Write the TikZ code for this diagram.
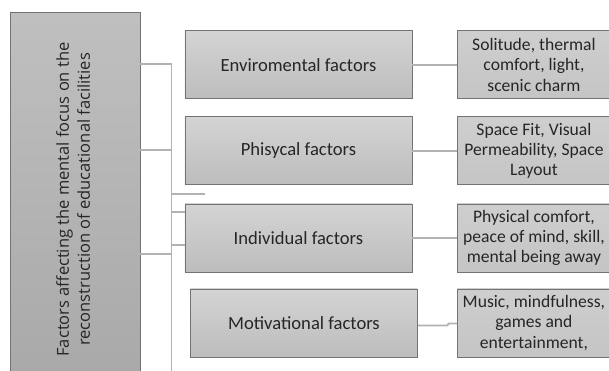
\documentclass[tikz,border=0pt]{standalone}
\usepackage{fontspec}
\setmainfont{Carlito}
\newfontfamily\leftfont{Open Sans}
\begin{document}
\begin{tikzpicture}[x=1pt,y=-1pt,
  boxbase/.style={draw=black!55, line width=0.9pt, inner sep=1pt, align=center,
    text=black!85, font=\fontsize{18.6}{20.3}\selectfont, anchor=north west},
  leftbox/.style={boxbase, top color=black!25, bottom color=black!34},
  midbox/.style={boxbase, top color=black!17, bottom color=black!26,
    minimum width=227pt, minimum height=68pt},
  rightbox/.style={boxbase, top color=black!19, bottom color=black!23,
    minimum width=153pt, minimum height=68pt, font=\fontsize{17.6}{20.3}\selectfont},
  link/.style={draw=black!30, line width=1.8pt}]
\useasboundingbox (0,0) rectangle (609,371);
\clip (0,0) rectangle (609,371);
\node[leftbox, minimum width=129.5pt, minimum height=374pt] (L) at (10,12)
  {\rotatebox{90}{\leftfont\fontsize{16.5}{21}\selectfont\begin{tabular}{@{}c@{}}Factors affecting the mental focus on the\\reconstruction of educational facilities\end{tabular}}};
\node[midbox] (m1) at (184.5,30.5) {Enviromental factors};
\node[midbox] (m2) at (184.5,116.5) {Phisycal factors};
\node[midbox] (m3) at (184.5,203.5) {Individual factors};
\node[midbox] (m4) at (190,288.5) {Motivational factors};
\node[rightbox] (r1) at (457,30.5) {Solitude, thermal\\comfort, light,\\scenic charm};
\node[rightbox] (r2) at (457,116.5) {Space Fit, Visual\\Permeability, Space\\Layout};
\node[rightbox] (r3) at (457,203.5) {Physical comfort,\\peace of mind, skill,\\mental being away};
\node[rightbox] (r4) at (457,288.5) {Music, mindfulness,\\games and\\entertainment,};
% spine
\coordinate (s1) at (171.5,64);
\coordinate (s2) at (171.5,150);
\coordinate (s3) at (171.5,254);
\coordinate (sb) at (171.5,372);
\coordinate (st) at (205,194);
\draw[link] (L.east |- s1) -- (s1) -- (sb);
\draw[link] (L.east |- s2) -- (s2);
\draw[link] (L.east |- s3) -- (s3);
\draw[link] (s1 |- st) -- (st);
\draw[link] (s1 |- 0,212) -- (m3.west |- 0,212);
\draw[link] (s1 |- 0,245) -- (m3.west |- 0,245);
% middle to right
\draw[link] (m1.east) -- (r1.west |- m1.east);
\draw[link] (m2.east) -- (r2.west |- m2.east);
\draw[link] (m3.east) -- (r3.west |- m3.east);
\draw[link] (m4.east |- 0,325.5) -- (447,325.5) -- (449,323.5) -- (r4.west |- 0,323.5);
\end{tikzpicture}
\end{document}
